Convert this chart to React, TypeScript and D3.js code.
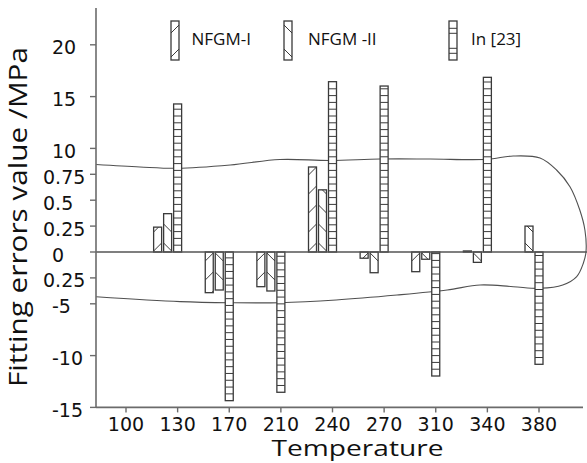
import React from 'react';
import * as d3 from 'd3';

// temperature groups and the three error series (MPa)
const categories = [100, 130, 170, 210, 240, 270, 310, 340, 380];
const seriesNames = ['NFGM-I', 'NFGM -II', 'In [23]'];
const nfgm1 = [0, 0.24, -2.96, -1.86, 3.36, -0.06, -0.19, 0.01, 0];
const nfgm2 = [0, 0.37, -2.47, -2.65, 0.6, -0.2, -0.07, -0.1, 0.25];
const ref23 = [0, 14.29, -14.35, -13.54, 16.44, 16.02, -11.97, 16.86, -10.84];

// broken y axis: tick values and their printed labels
const yTickValues = [-15, -10, -5, -0.25, 0, 0.25, 0.5, 0.75, 10, 15, 20];
const yTickLabels = ['-15', '-10', '-5', '0.25', '0', '0.25', '0.5', '0.75', '10', '15', '20'];

// hand drawn envelope (x in group index units, y in axis units)
const envX = [-0.58, 0.27, 0.99, 2.02, 2.98, 3.95, 4.92, 5.89, 6.99, 7.5, 8.02, 8.34, 8.6, 8.79, 8.89, 8.91,
  8.86, 8.73, 8.46, 8.02, 7.5, 6.86, 6.22, 5.25, 4.07, 2.98, 2.02, 1.05, -0.58];
const envY = [4.25, 3.36, 2.89, 4.07, 6.03, 5.68, 6.21, 6.21, 6.1, 7.28, 6.57, 2.29, 0.63, 0.405, 0.21, 0,
  -0.106, -0.237, -1.55, -2.16, -1.86, -1.55, -2.47, -3.39, -4.3, -4.8, -4.8, -4.6, -3.7];

const W = 587;
const H = 463;
const axisX = 96;
const axisTop = 8;
const zeroY = 252;
const unit = 25.9; // px per tick step
const stroke = '#3a3a3a';
const axisColor = '#6b6b6b';

// each tick is spaced a number of "steps" from zero
const tickSteps = [-6, -4, -2, -1, 0, 1, 2, 3, 4, 6, 8];
const y = d3.scaleLinear().domain(yTickValues).range(tickSteps.map(s => zeroY - s * unit));
const x = d3.scaleLinear().domain([0, categories.length - 1]).range([126, 539]);
const axisBottom = y(-15);

const barW = 8;
const offsets = [-20, -10, 0];
const series = [nfgm1, nfgm2, ref23];

function Hatch({ kind, x0, y0, y1, id }: { kind: number; x0: number; y0: number; y1: number; id: string }) {
  const top = Math.min(y0, y1);
  const bot = Math.max(y0, y1);
  const lines: JSX.Element[] = [];
  if (kind === 2) {
    for (let yy = bot - 6.8; yy > top + 1; yy -= 6.8) {
      lines.push(<line key={yy} x1={x0} x2={x0 + barW} y1={yy} y2={yy} stroke={stroke} strokeWidth={1} />);
    }
  } else {
    const start = y0 < y1 ? y0 + 5 : y0 - 5;
    const dir = y0 < y1 ? 1 : -1;
    for (let k = -1; k < 20; k++) {
      const yy = start + dir * k * 19;
      if (kind === 0) {
        lines.push(<line key={k} x1={x0} x2={x0 + barW} y1={yy + 4} y2={yy - 4} stroke={stroke} strokeWidth={1} />);
      } else {
        lines.push(<line key={k} x1={x0} x2={x0 + barW} y1={yy - 4} y2={yy + 4} stroke={stroke} strokeWidth={1} />);
      }
    }
  }
  return (
    <g>
      <clipPath id={id}>
        <rect x={x0} y={top} width={barW} height={bot - top} />
      </clipPath>
      <g clipPath={`url(#${id})`}>{lines}</g>
    </g>
  );
}

export default function App() {
  const envLine = d3.line<number>()
    .x((_, i) => x(envX[i]))
    .y(d => y(d))
    .curve(d3.curveCatmullRom.alpha(0.5));

  const legendX = [171, 284, 449];
  const legendTextX = [191.5, 308, 471];

  return (
    <svg width={W} height={H} style={{ position: 'absolute', left: 0, top: 0, background: '#fff' }}>
      {/* envelope */}
      <path d={envLine(envY) || ''} fill="none" stroke="#505050" strokeWidth={1.1} />

      {/* bars */}
      {categories.map((c, i) => (
        <g key={c}>
          {series.map((s, k) => {
            const v = s[i];
            if (v === 0) return null;
            const x0 = x(i) + offsets[k] - barW / 2;
            const yv = y(v);
            const top = Math.min(yv, zeroY);
            const h = Math.max(Math.abs(yv - zeroY), 1);
            return (
              <g key={k}>
                <rect x={x0} y={top} width={barW} height={h} fill="#fff" />
                <Hatch kind={k} x0={x0} y0={zeroY} y1={yv} id={`c${i}-${k}`} />
                <rect x={x0} y={top} width={barW} height={h} fill="none" stroke={stroke} strokeWidth={1.3} />
              </g>
            );
          })}
        </g>
      ))}

      {/* zero line */}
      <line x1={axisX} x2={W} y1={zeroY} y2={zeroY} stroke="#555" strokeWidth={1.3} />

      {/* y axis */}
      <line x1={axisX} x2={axisX} y1={axisTop} y2={axisBottom} stroke={axisColor} strokeWidth={1.6} />
      {yTickValues.map((v, i) => {
        const lab = yTickLabels[i];
        const lx = lab.includes('.') ? 43 : 52;
        return (
          <g key={i}>
            <line x1={axisX - 6} x2={axisX} y1={y(v)} y2={y(v)} stroke={axisColor} strokeWidth={1.4} />
            <text x={lx} y={y(v) + 9.5} fontFamily="DejaVu Sans" fontSize={19} fill="#111">{lab}</text>
          </g>
        );
      })}

      {/* x axis */}
      <line x1={axisX} x2={583} y1={axisBottom} y2={axisBottom} stroke={axisColor} strokeWidth={1.6} />
      {categories.map((c, i) => (
        <g key={c}>
          <line x1={x(i)} x2={x(i)} y1={axisBottom} y2={axisBottom + 5} stroke={axisColor} strokeWidth={1.4} />
          <text x={x(i)} y={axisBottom + 24} textAnchor="middle" fontFamily="DejaVu Sans" fontSize={19} fill="#111">{c}</text>
        </g>
      ))}

      {/* titles */}
      <text x={357.5} y={456} textAnchor="middle" fontFamily="Open Sans" fontSize={21.5} textLength={172}
        lengthAdjust="spacingAndGlyphs" fill="#111">Temperature</text>
      <text transform="translate(27,217) rotate(-90)" textAnchor="middle" fontFamily="Open Sans" fontSize={26}
        textLength={340} lengthAdjust="spacingAndGlyphs" fill="#111">Fitting errors value /MPa</text>

      {/* legend */}
      {seriesNames.map((name, k) => (
        <g key={name}>
          <rect x={legendX[k]} y={21} width={barW} height={39} fill="#fff" />
          {k === 2 ? (
            [28.3, 33.3, 48.3, 53.3].map(yy => (
              <line key={yy} x1={legendX[k]} x2={legendX[k] + barW} y1={yy} y2={yy} stroke={stroke} strokeWidth={1} />
            ))
          ) : (
            [29, 53].map(yy => (
              <line key={yy} x1={legendX[k]} x2={legendX[k] + barW}
                y1={k === 0 ? yy + 4 : yy - 4} y2={k === 0 ? yy - 4 : yy + 4} stroke={stroke} strokeWidth={1} />
            ))
          )}
          <rect x={legendX[k]} y={21} width={barW} height={39} fill="none" stroke={stroke} strokeWidth={1.3} />
          <text x={legendTextX[k]} y={45} fontFamily="Open Sans" fontSize={17} fill="#111">{name}</text>
        </g>
      ))}
    </svg>
  );
}
